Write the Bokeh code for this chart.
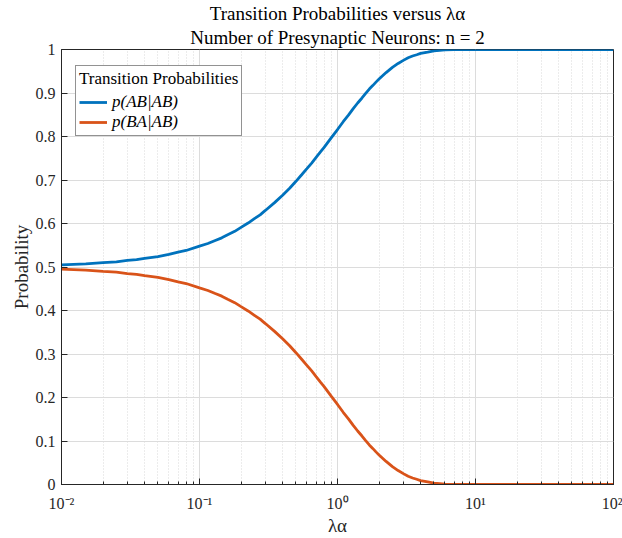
from bokeh.plotting import figure
from bokeh.models import (Range1d, Title, Legend, LegendItem,
                          CustomJSTickFormatter, FixedTicker, LogTicker)
from bokeh.embed import file_html
from bokeh.resources import INLINE

# ---- data ----
lam_alpha = [0.01, 0.015, 0.02, 0.025, 0.03, 0.035, 0.04, 0.05, 0.06, 0.07, 0.08,
             0.1, 0.115, 0.13, 0.145, 0.16, 0.18, 0.2, 0.225, 0.25, 0.275, 0.3, 0.35,
             0.4, 0.45, 0.5, 0.55, 0.6, 0.65, 0.7, 0.75, 0.8, 0.9,
             1.0, 1.1, 1.2, 1.3, 1.4, 1.5, 1.6, 1.7, 1.8, 1.9,
             2.0, 2.25, 2.5, 2.75, 3.0, 3.25, 3.5, 3.75,
             4.0, 4.5, 5.0, 5.5, 6.0, 7.0, 8.0, 10.0, 20.0, 50.0, 100.0]
p_ab_ab = [0.505, 0.507, 0.510, 0.512, 0.515, 0.517, 0.520, 0.524, 0.529, 0.534, 0.538,
           0.548, 0.554, 0.561, 0.567, 0.574, 0.582, 0.591, 0.601, 0.611, 0.620, 0.630, 0.648,
           0.665, 0.681, 0.697, 0.712, 0.726, 0.739, 0.752, 0.764, 0.775, 0.797,
           0.816, 0.834, 0.849, 0.864, 0.877, 0.888, 0.899, 0.909, 0.917, 0.925,
           0.932, 0.947, 0.959, 0.968, 0.975, 0.981, 0.985, 0.988,
           0.991, 0.994, 0.997, 0.998, 0.999, 1.000, 1.000, 1.000, 1.000, 1.000, 1.000]
p_ba_ab = [0.495, 0.493, 0.490, 0.488, 0.485, 0.483, 0.480, 0.476, 0.471, 0.466, 0.462,
           0.452, 0.446, 0.439, 0.433, 0.426, 0.418, 0.409, 0.399, 0.389, 0.380, 0.370, 0.352,
           0.335, 0.319, 0.303, 0.288, 0.274, 0.261, 0.248, 0.236, 0.225, 0.203,
           0.184, 0.166, 0.151, 0.136, 0.123, 0.112, 0.101, 0.091, 0.083, 0.075,
           0.068, 0.053, 0.041, 0.032, 0.025, 0.019, 0.015, 0.012,
           0.009, 0.006, 0.003, 0.002, 0.001, 0.000, 0.000, 0.000, 0.000, 0.000, 0.000]

x_ticks = [0.01, 0.1, 1, 10, 100]
x_tick_labels = ["10\u207b\u00b2", "10\u207b\u00b9", "10\u2070", "10\u00b9", "10\u00b2"]
y_ticks = [0, 0.1, 0.2, 0.3, 0.4, 0.5, 0.6, 0.7, 0.8, 0.9, 1]
y_tick_labels = ["0", "0.1", "0.2", "0.3", "0.4", "0.5", "0.6", "0.7", "0.8", "0.9", "1"]

series_labels = ["p(AB|AB)", "p(BA|AB)"]
legend_title = "Transition Probabilities"
title_1 = "Transition Probabilities versus \u03bb\u03b1"
title_2 = "Number of Presynaptic Neurons: n = 2"
x_label = "\u03bb\u03b1"
y_label = "Probability"

FONT = "Liberation Serif"
AXC = "#262626"
BLUE = "#0072BD"
RED = "#D95319"

p = figure(width=622, height=538, x_axis_type="log",
           x_range=Range1d(0.01, 100), y_range=Range1d(0, 1),
           output_backend="svg", toolbar_location=None,
           min_border_left=61, min_border_right=9, min_border_top=49,
           min_border_bottom=53)
p.title = None
p.outline_line_color = AXC
p.outline_line_width = 1
p.background_fill_color = "white"
p.border_fill_color = "white"

xfmt = CustomJSTickFormatter(args=dict(tvals=x_ticks, tlabels=x_tick_labels), code="""
const i = tvals.findIndex(t => Math.abs(Math.log10(t) - Math.log10(tick)) < 1e-6);
return i >= 0 ? tlabels[i] : '';
""")
yfmt = CustomJSTickFormatter(args=dict(tvals=y_ticks, tlabels=y_tick_labels), code="""
const i = tvals.findIndex(t => Math.abs(t - tick) < 1e-6);
return i >= 0 ? tlabels[i] : '';
""")

def style_axis(ax):
    ax.axis_line_color = AXC
    ax.axis_line_width = 1
    ax.major_tick_line_color = AXC
    ax.minor_tick_line_color = AXC
    ax.major_tick_in = 6
    ax.major_tick_out = 0
    ax.minor_tick_in = 3
    ax.minor_tick_out = 0
    ax.major_label_text_font = FONT
    ax.major_label_text_color = AXC
    ax.major_label_text_font_size = "16px"
    ax.axis_label_text_font = FONT
    ax.axis_label_text_font_style = "normal"
    ax.axis_label_text_color = AXC
    ax.axis_label_text_font_size = "19px"

xa = p.xaxis[0]
xa.ticker = LogTicker(desired_num_ticks=5, num_minor_ticks=10)
xa.formatter = xfmt
style_axis(xa)
xa.axis_label = x_label
xa.major_label_standoff = 10
xa.axis_label_standoff = 0

ya = p.yaxis[0]
ya.ticker = FixedTicker(ticks=y_ticks)
ya.formatter = yfmt
style_axis(ya)
ya.axis_label = y_label
ya.major_label_standoff = 6
ya.axis_label_standoff = 1

p.xgrid.ticker = xa.ticker
p.xgrid.grid_line_color = "#dcdcdc"
p.xgrid.grid_line_width = 1
p.xgrid.minor_grid_line_color = "#d8d8d8"
p.xgrid.minor_grid_line_dash = "1 2"
p.ygrid.grid_line_color = "#dcdcdc"
p.ygrid.grid_line_width = 1
p.ygrid.ticker = ya.ticker

r1 = p.line(lam_alpha, p_ab_ab, line_color=BLUE, line_width=2.8)
r2 = p.line(lam_alpha, p_ba_ab, line_color=RED, line_width=2.8)

legend = Legend(items=[LegendItem(label=series_labels[0], renderers=[r1]),
                       LegendItem(label=series_labels[1], renderers=[r2])],
                title=legend_title, location=(14, 348))
legend.title_text_font = FONT
legend.title_text_font_style = "normal"
legend.title_text_font_size = "17px"
legend.title_text_color = "black"
legend.title_standoff = 3
legend.label_text_font = FONT
legend.label_text_font_style = "italic"
legend.label_text_font_size = "17px"
legend.label_text_color = "black"
legend.glyph_width = 28
legend.glyph_height = 16
legend.label_height = 16
legend.spacing = 0
legend.padding = 3
legend.margin = 0
legend.border_line_color = AXC
legend.border_line_width = 1
legend.background_fill_alpha = 1
p.add_layout(legend, "center")

t2 = Title(text=title_2, align="center", text_font=FONT, text_font_size="19px",
           text_font_style="normal", text_color="black", standoff=3)
t1 = Title(text=title_1, align="center", text_font=FONT, text_font_size="19px",
           text_font_style="normal", text_color="black", standoff=0)
p.add_layout(t2, "above")
p.add_layout(t1, "above")

open("out.html", "w").write(file_html(p, INLINE))
